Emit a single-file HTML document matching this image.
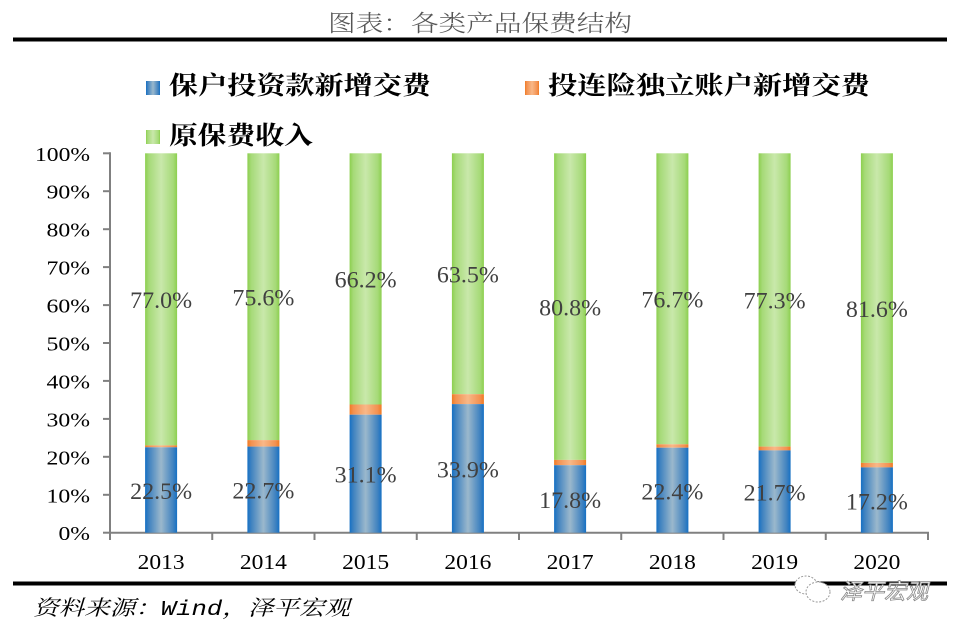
<!DOCTYPE html>
<html>
<head>
<meta charset="utf-8">
<style>
html,body{margin:0;padding:0;background:#fff;}
svg{display:block;}
</style>
</head>
<body>
<svg width="960" height="631" viewBox="0 0 960 631" xmlns="http://www.w3.org/2000/svg">
<defs>
<linearGradient id="gb" x1="0" y1="0" x2="1" y2="0">
<stop offset="0" stop-color="#1570c4"/>
<stop offset="0.12" stop-color="#3f82c0"/>
<stop offset="0.5" stop-color="#9bb8cc"/>
<stop offset="0.88" stop-color="#3f82c0"/>
<stop offset="1" stop-color="#1570c4"/>
</linearGradient>
<linearGradient id="gg" x1="0" y1="0" x2="1" y2="0">
<stop offset="0" stop-color="#8ccf4e"/>
<stop offset="0.12" stop-color="#a6da78"/>
<stop offset="0.5" stop-color="#c9e8ab"/>
<stop offset="0.88" stop-color="#a6da78"/>
<stop offset="1" stop-color="#8ccf4e"/>
</linearGradient>
<linearGradient id="go" x1="0" y1="0" x2="1" y2="0">
<stop offset="0" stop-color="#f07a22"/>
<stop offset="0.12" stop-color="#f39150"/>
<stop offset="0.5" stop-color="#f8b888"/>
<stop offset="0.88" stop-color="#f39150"/>
<stop offset="1" stop-color="#f07a22"/>
</linearGradient>
</defs>

<!-- Title -->
<text x="328" y="31" font-family="'Noto Serif CJK SC', serif" font-size="23" fill="#555" font-weight="300" textLength="304" lengthAdjust="spacingAndGlyphs">图表：各类产品保费结构</text>
<rect x="13" y="37.5" width="934" height="4" fill="#000"/>

<!-- Legend -->
<rect x="146" y="81" width="14" height="14" fill="url(#gb)"/>
<text x="169" y="94" font-family="'Noto Serif CJK SC', serif" font-size="25" font-weight="bold" fill="#000" textLength="262" lengthAdjust="spacingAndGlyphs">保户投资款新增交费</text>
<rect x="525" y="81" width="14" height="14" fill="url(#go)"/>
<text x="548" y="94" font-family="'Noto Serif CJK SC', serif" font-size="25" font-weight="bold" fill="#000" textLength="322" lengthAdjust="spacingAndGlyphs">投连险独立账户新增交费</text>
<rect x="146" y="130" width="14" height="14" fill="url(#gg)"/>
<text x="169" y="144" font-family="'Noto Serif CJK SC', serif" font-size="25" font-weight="bold" fill="#000" textLength="144" lengthAdjust="spacingAndGlyphs">原保费收入</text>

<!-- Y axis -->
<g stroke="#808080" stroke-width="2" fill="none">
<line x1="110" y1="152.3" x2="110" y2="533.7"/>
<line x1="103" y1="153.3" x2="110" y2="153.3"/>
<line x1="103" y1="191.2" x2="110" y2="191.2"/>
<line x1="103" y1="229.2" x2="110" y2="229.2"/>
<line x1="103" y1="267.1" x2="110" y2="267.1"/>
<line x1="103" y1="305.1" x2="110" y2="305.1"/>
<line x1="103" y1="343.0" x2="110" y2="343.0"/>
<line x1="103" y1="380.9" x2="110" y2="380.9"/>
<line x1="103" y1="418.9" x2="110" y2="418.9"/>
<line x1="103" y1="456.8" x2="110" y2="456.8"/>
<line x1="103" y1="494.8" x2="110" y2="494.8"/>
<line x1="103" y1="532.7" x2="110" y2="532.7"/>
<!-- X axis -->
<line x1="109" y1="532.7" x2="929" y2="532.7"/>
<line x1="110" y1="532.7" x2="110" y2="540"/>
<line x1="212.25" y1="532.7" x2="212.25" y2="540"/>
<line x1="314.5" y1="532.7" x2="314.5" y2="540"/>
<line x1="416.75" y1="532.7" x2="416.75" y2="540"/>
<line x1="519" y1="532.7" x2="519" y2="540"/>
<line x1="621.25" y1="532.7" x2="621.25" y2="540"/>
<line x1="723.5" y1="532.7" x2="723.5" y2="540"/>
<line x1="825.75" y1="532.7" x2="825.75" y2="540"/>
<line x1="928" y1="532.7" x2="928" y2="540"/>
</g>

<g font-family="'Liberation Serif', serif" font-size="20" fill="#000" text-anchor="end">
<text x="90" y="160.8" textLength="55" lengthAdjust="spacingAndGlyphs">100%</text>
<text x="90" y="198.7" textLength="43.5" lengthAdjust="spacingAndGlyphs">90%</text>
<text x="90" y="236.7" textLength="43.5" lengthAdjust="spacingAndGlyphs">80%</text>
<text x="90" y="274.6" textLength="43.5" lengthAdjust="spacingAndGlyphs">70%</text>
<text x="90" y="312.6" textLength="43.5" lengthAdjust="spacingAndGlyphs">60%</text>
<text x="90" y="350.5" textLength="43.5" lengthAdjust="spacingAndGlyphs">50%</text>
<text x="90" y="388.4" textLength="43.5" lengthAdjust="spacingAndGlyphs">40%</text>
<text x="90" y="426.4" textLength="43.5" lengthAdjust="spacingAndGlyphs">30%</text>
<text x="90" y="464.3" textLength="43.5" lengthAdjust="spacingAndGlyphs">20%</text>
<text x="90" y="502.3" textLength="43.5" lengthAdjust="spacingAndGlyphs">10%</text>
<text x="90" y="540.2" textLength="31.5" lengthAdjust="spacingAndGlyphs">0%</text>
</g>

<!-- Bars -->
<g>
<!-- 2013 -->
<rect x="145.1" y="153.3" width="32" height="292.1" fill="url(#gg)"/>
<rect x="145.1" y="445.4" width="32" height="1.9" fill="url(#go)"/>
<rect x="145.1" y="447.3" width="32" height="85.4" fill="url(#gb)"/>
<!-- 2014 -->
<rect x="247.4" y="153.3" width="32" height="286.8" fill="url(#gg)"/>
<rect x="247.4" y="440.1" width="32" height="6.5" fill="url(#go)"/>
<rect x="247.4" y="446.6" width="32" height="86.1" fill="url(#gb)"/>
<!-- 2015 -->
<rect x="349.6" y="153.3" width="32" height="251.2" fill="url(#gg)"/>
<rect x="349.6" y="404.5" width="32" height="10.2" fill="url(#go)"/>
<rect x="349.6" y="414.7" width="32" height="118.0" fill="url(#gb)"/>
<!-- 2016 -->
<rect x="451.9" y="153.3" width="32" height="240.9" fill="url(#gg)"/>
<rect x="451.9" y="394.2" width="32" height="9.9" fill="url(#go)"/>
<rect x="451.9" y="404.1" width="32" height="128.6" fill="url(#gb)"/>
<!-- 2017 -->
<rect x="554.1" y="153.3" width="32" height="306.6" fill="url(#gg)"/>
<rect x="554.1" y="459.9" width="32" height="5.3" fill="url(#go)"/>
<rect x="554.1" y="465.2" width="32" height="67.5" fill="url(#gb)"/>
<!-- 2018 -->
<rect x="656.4" y="153.3" width="32" height="291.0" fill="url(#gg)"/>
<rect x="656.4" y="444.3" width="32" height="3.4" fill="url(#go)"/>
<rect x="656.4" y="447.7" width="32" height="85.0" fill="url(#gb)"/>
<!-- 2019 -->
<rect x="758.6" y="153.3" width="32" height="293.3" fill="url(#gg)"/>
<rect x="758.6" y="446.6" width="32" height="3.8" fill="url(#go)"/>
<rect x="758.6" y="450.4" width="32" height="82.3" fill="url(#gb)"/>
<!-- 2020 -->
<rect x="860.9" y="153.3" width="32" height="309.6" fill="url(#gg)"/>
<rect x="860.9" y="462.9" width="32" height="4.5" fill="url(#go)"/>
<rect x="860.9" y="467.4" width="32" height="65.3" fill="url(#gb)"/>
</g>

<!-- Data labels -->
<g font-family="'Liberation Serif', serif" font-size="23" fill="#404040" text-anchor="middle">
<text x="161.1" y="308" textLength="62" lengthAdjust="spacingAndGlyphs">77.0%</text>
<text x="161.1" y="499" textLength="62" lengthAdjust="spacingAndGlyphs">22.5%</text>
<text x="263.4" y="305.4" textLength="62" lengthAdjust="spacingAndGlyphs">75.6%</text>
<text x="263.4" y="498.6" textLength="62" lengthAdjust="spacingAndGlyphs">22.7%</text>
<text x="365.6" y="287.6" textLength="62" lengthAdjust="spacingAndGlyphs">66.2%</text>
<text x="365.6" y="482.7" textLength="62" lengthAdjust="spacingAndGlyphs">31.1%</text>
<text x="467.9" y="282.5" textLength="62" lengthAdjust="spacingAndGlyphs">63.5%</text>
<text x="467.9" y="477.4" textLength="62" lengthAdjust="spacingAndGlyphs">33.9%</text>
<text x="570.1" y="315.3" textLength="62" lengthAdjust="spacingAndGlyphs">80.8%</text>
<text x="570.1" y="507.9" textLength="62" lengthAdjust="spacingAndGlyphs">17.8%</text>
<text x="672.4" y="307.5" textLength="62" lengthAdjust="spacingAndGlyphs">76.7%</text>
<text x="672.4" y="499.7" textLength="62" lengthAdjust="spacingAndGlyphs">22.4%</text>
<text x="774.6" y="308.6" textLength="62" lengthAdjust="spacingAndGlyphs">77.3%</text>
<text x="774.6" y="500.5" textLength="62" lengthAdjust="spacingAndGlyphs">21.7%</text>
<text x="876.9" y="316.8" textLength="62" lengthAdjust="spacingAndGlyphs">81.6%</text>
<text x="876.9" y="509.6" textLength="62" lengthAdjust="spacingAndGlyphs">17.2%</text>
</g>

<!-- X labels -->
<g font-family="'Liberation Serif', serif" font-size="21" fill="#000" text-anchor="middle">
<text x="161.1" y="569" textLength="47" lengthAdjust="spacingAndGlyphs">2013</text>
<text x="263.4" y="569" textLength="47" lengthAdjust="spacingAndGlyphs">2014</text>
<text x="365.6" y="569" textLength="47" lengthAdjust="spacingAndGlyphs">2015</text>
<text x="467.9" y="569" textLength="47" lengthAdjust="spacingAndGlyphs">2016</text>
<text x="570.1" y="569" textLength="47" lengthAdjust="spacingAndGlyphs">2017</text>
<text x="672.4" y="569" textLength="47" lengthAdjust="spacingAndGlyphs">2018</text>
<text x="774.6" y="569" textLength="47" lengthAdjust="spacingAndGlyphs">2019</text>
<text x="876.9" y="569" textLength="47" lengthAdjust="spacingAndGlyphs">2020</text>
</g>

<!-- Bottom rule -->
<rect x="13" y="581.5" width="934" height="4" fill="#000"/>

<!-- Watermark -->
<g fill="#fff" stroke="#9a9a9a" stroke-width="1">
<ellipse cx="806" cy="585" rx="11" ry="9" stroke-dasharray="2 1.5"/>
<ellipse cx="818" cy="592" rx="12" ry="10" stroke-dasharray="2 1.5"/>
</g>
<text x="840" y="599" font-family="'Noto Sans CJK SC', sans-serif" font-size="22" font-style="italic" fill="#fff" stroke="#888" stroke-width="0.8" textLength="88" lengthAdjust="spacingAndGlyphs">泽平宏观</text>

<!-- Source -->
<text x="33" y="615" font-family="'Noto Serif CJK SC', serif" font-size="21" font-style="italic" fill="#000" textLength="317" lengthAdjust="spacingAndGlyphs">资料来源：<tspan font-family="'Liberation Mono', monospace">Wind</tspan>，泽平宏观</text>
</svg>
</body>
</html>
